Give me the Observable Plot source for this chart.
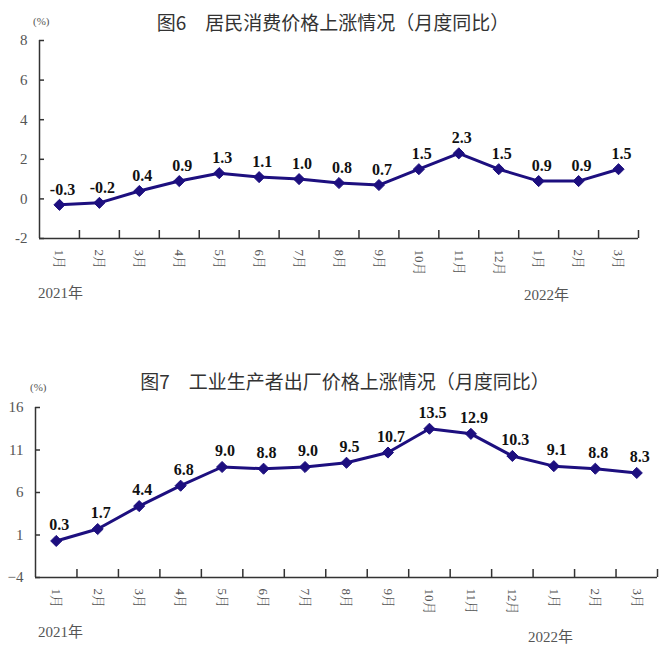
<!DOCTYPE html>
<html>
<head>
<meta charset="utf-8">
<script src="https://cdn.jsdelivr.net/npm/d3@7"></script>
<script src="https://cdn.jsdelivr.net/npm/@observablehq/plot@0.6"></script>
<style>
  body { margin: 0; background: #fff; }
  #wrap { position: relative; width: 667px; height: 656px; overflow: hidden; background: #fff; }
  .abs { position: absolute; white-space: nowrap; line-height: 1; }
  .title { font-family: "Noto Sans CJK SC", sans-serif; font-size: 19px; color: #333; transform: translateX(-50%); }
  .unit { font-family: "Liberation Serif", "Noto Sans CJK SC", serif; font-size: 11px; color: #555; }
  .year { font-family: "Liberation Serif", "Noto Sans CJK SC", serif; font-size: 15px; color: #555; }
  svg { position: absolute; left: 0; }
</style>
</head>
<body>
<div id="wrap"></div>
<script>
// ---- data ----
const months = ["1月","2月","3月","4月","5月","6月","7月","8月","9月","10月","11月","12月","1月","2月","3月"];
const cpiValues = [-0.3, -0.2, 0.4, 0.9, 1.3, 1.1, 1.0, 0.8, 0.7, 1.5, 2.3, 1.5, 0.9, 0.9, 1.5];
const ppiValues = [0.3, 1.7, 4.4, 6.8, 9.0, 8.8, 9.0, 9.5, 10.7, 13.5, 12.9, 10.3, 9.1, 8.8, 8.3];
const cpiTicks = [-2, 0, 2, 4, 6, 8];
const ppiTicks = [-4, 1, 6, 11, 16];
const cpiTitle = "图6　居民消费价格上涨情况（月度同比）";
const ppiTitle = "图7　工业生产者出厂价格上涨情况（月度同比）";
const unitLabel = "(%)";
const yearLabels = ["2021年", "2022年"];

const lineColor = "#1d0f7f";
const serif = "Liberation Serif, Noto Serif CJK SC, Noto Sans CJK SC, serif";
const wrap = document.getElementById("wrap");

function makeChart({values, yTicks, yDomain, top, height, mt, mb, ml, mr, labelDy, minusChar}) {
  const W = 667;
  const plotW = W - ml - mr;
  const plotH = height - mt - mb;
  const rows = values.map((v, i) => ({i: i + 0.5, v, m: months[i]}));
  const boundaries = months.map((m, i) => i + 1);
  const svg = Plot.plot({
    width: W,
    height,
    marginTop: mt,
    marginBottom: mb,
    marginLeft: ml,
    marginRight: mr,
    style: {fontFamily: serif, fontSize: "15px", color: "#555", background: "transparent"},
    x: {domain: [0, months.length], axis: null},
    y: {domain: yDomain, label: null},
    marks: [
      Plot.axisY({ticks: yTicks, tickSize: 0, tickPadding: 12, label: null, tickFormat: d => (d < 0 ? minusChar + Math.abs(d) : String(d)), fill: "#555", fontSize: 15}),
      Plot.tickY(yTicks, {y: d => d, insetRight: plotW - 5, stroke: "#333", strokeWidth: 1.5}),
      Plot.tickX(boundaries, {x: d => d, insetTop: plotH - 8, stroke: "#333", strokeWidth: 1.5}),
      Plot.ruleX([0], {stroke: "#333", strokeWidth: 1.5}),
      Plot.ruleY([yDomain[0]], {stroke: "#333", strokeWidth: 1.5}),
      Plot.line(rows, {x: "i", y: "v", stroke: lineColor, strokeWidth: 3}),
      Plot.dot(rows, {x: "i", y: "v", symbol: "diamond2", r: 5, fill: lineColor, stroke: lineColor, strokeWidth: 1}),
      Plot.text(rows, {x: "i", y: "v", text: d => d.v.toFixed(1), dy: labelDy, dx: 3, fontWeight: "bold", fontSize: 16, fill: "#111", fontFamily: serif}),
      Plot.text(rows, {x: "i", frameAnchor: "bottom", text: "m", rotate: 90, textAnchor: "start", lineAnchor: "middle", dy: 11, fontSize: 13, fill: "#555", fontFamily: serif})
    ]
  });
  svg.style.top = top + "px";
  wrap.appendChild(svg);
}

function addText(cls, text, left, top) {
  const d = document.createElement("div");
  d.className = "abs " + cls;
  d.textContent = text;
  d.style.left = left + "px";
  d.style.top = top + "px";
  wrap.appendChild(d);
}

makeChart({values: cpiValues, yTicks: cpiTicks, yDomain: [-2, 8], top: 0, height: 290, mt: 40, mb: 52, ml: 39, mr: 29, labelDy: -15, minusChar: "-"});
makeChart({values: ppiValues, yTicks: ppiTicks, yDomain: [-4, 16], top: 360, height: 270, mt: 47, mb: 53, ml: 35, mr: 10, labelDy: -16, minusChar: "−"});

addText("title", cpiTitle, 333, 12);
addText("title", ppiTitle, 345, 371);
addText("unit", unitLabel, 33, 16);
addText("unit", unitLabel, 30, 382);
addText("year", yearLabels[0], 38, 286);
addText("year", yearLabels[1], 524, 288);
addText("year", yearLabels[0], 38, 625);
addText("year", yearLabels[1], 528, 630);
</script>
</body>
</html>
